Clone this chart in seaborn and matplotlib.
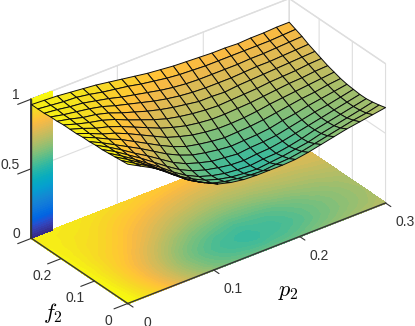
import numpy as np
import matplotlib
matplotlib.use("Agg")
import matplotlib.pyplot as plt
from matplotlib.transforms import Affine2D
import seaborn as sns

sns.set_theme(style="white", rc={'xtick.bottom': True, 'ytick.left': True})
plt.rcParams['font.family'] = ['Liberation Sans', 'DejaVu Sans']
plt.rcParams['mathtext.fontset'] = 'cm'

p2_max = 0.3
f2_max = 0.29
p2_values = np.linspace(0, p2_max, 21)
f2_values = np.linspace(0, f2_max, 16)
z_rows = [
 [1.00,.995,.99,.985,.98,.98,.975,.975,.97,.97,.97,.965,.965,.96,.96,.96],
 [.95,.94,.935,.93,.93,.93,.93,.935,.935,.94,.94,.945,.945,.95,.95,.955],
 [.90,.885,.875,.87,.87,.875,.88,.89,.895,.905,.915,.92,.93,.935,.94,.95],
 [.84,.82,.81,.805,.81,.815,.83,.85,.865,.88,.895,.905,.915,.925,.935,.94],
 [.77,.75,.74,.74,.745,.76,.78,.80,.825,.845,.865,.88,.895,.905,.92,.93],
 [.70,.68,.67,.67,.68,.70,.725,.75,.78,.805,.825,.845,.865,.885,.90,.92],
 [.65,.625,.615,.61,.62,.64,.67,.70,.735,.765,.79,.815,.84,.86,.885,.905],
 [.605,.58,.57,.565,.575,.595,.625,.655,.69,.725,.755,.785,.815,.84,.87,.89],
 [.58,.555,.54,.535,.545,.565,.59,.62,.66,.695,.725,.76,.79,.82,.85,.875],
 [.565,.54,.52,.515,.525,.54,.57,.60,.635,.67,.705,.74,.77,.80,.835,.86],
 [.56,.53,.51,.505,.51,.53,.555,.585,.62,.655,.69,.725,.755,.785,.82,.85],
 [.56,.525,.505,.50,.505,.52,.545,.575,.61,.645,.68,.71,.745,.775,.81,.84],
 [.56,.535,.515,.51,.515,.53,.55,.58,.61,.645,.675,.71,.74,.77,.805,.835],
 [.565,.54,.525,.515,.52,.535,.555,.585,.615,.65,.68,.705,.74,.77,.80,.83],
 [.58,.555,.54,.53,.535,.545,.565,.595,.625,.655,.685,.715,.74,.77,.80,.825],
 [.60,.575,.555,.55,.555,.565,.585,.61,.64,.665,.69,.72,.745,.77,.80,.825],
 [.62,.595,.58,.575,.575,.585,.60,.625,.65,.675,.70,.725,.75,.775,.80,.82],
 [.64,.615,.60,.595,.595,.605,.62,.64,.66,.685,.705,.73,.75,.775,.80,.825],
 [.655,.635,.62,.615,.615,.62,.635,.65,.67,.69,.71,.735,.755,.78,.80,.825],
 [.67,.65,.64,.635,.635,.64,.65,.665,.68,.70,.72,.74,.76,.785,.805,.83],
 [.685,.672,.662,.655,.655,.66,.665,.675,.69,.705,.725,.745,.765,.79,.81,.83],
]
p_ticks = [0, 0.1, 0.2, 0.3]
f_ticks = [0, 0.1, 0.2]
z_ticks = [0, 0.5, 1]
strip_width = 0.024

parula_anchors = [
 (0.2081,0.1663,0.5292),(0.2123,0.2138,0.6270),(0.1959,0.2645,0.7279),(0.1253,0.3242,0.8303),
 (0.0117,0.3875,0.8820),(0.0165,0.4266,0.8786),(0.0498,0.4586,0.8641),(0.0723,0.4887,0.8467),
 (0.0793,0.5200,0.8312),(0.0641,0.5570,0.8240),(0.0343,0.5966,0.8199),(0.0239,0.6287,0.8038),
 (0.0228,0.6535,0.7768),(0.0384,0.6743,0.7436),(0.0843,0.6928,0.7062),(0.1453,0.7098,0.6646),
 (0.2178,0.7250,0.6193),(0.3022,0.7376,0.5712),(0.3953,0.7459,0.5244),(0.4871,0.7491,0.4840),
 (0.5709,0.7485,0.4494),(0.6473,0.7456,0.4188),(0.7184,0.7411,0.3905),(0.7858,0.7356,0.3633),
 (0.8507,0.7299,0.3360),(0.9139,0.7258,0.3063),(0.9739,0.7314,0.2666),(0.9990,0.7653,0.2164),
 (0.9880,0.8066,0.1794),(0.9697,0.8481,0.1475),(0.9589,0.8949,0.1132),(0.9661,0.9514,0.0755),
 (0.9763,0.9831,0.0538),
]
parula = sns.blend_palette(parula_anchors, n_colors=256, as_cmap=True)
axis_color = (0.2, 0.2, 0.2)

W, H = 415, 326
fig = plt.figure(figsize=(W/100, H/100), dpi=100, facecolor='white')
S = 384
ax = fig.add_axes([11.3/W, -22.2/H, S/W, S/H], projection='3d',
                  proj_type='ortho', computed_zorder=False)
ax.patch.set_alpha(0)
ax.view_init(elev=30.9, azim=-127.2)
ax.set_box_aspect((323, 159, 162))
ax.set_xlim(0, p2_max, view_margin=0)
ax.set_ylim(0, f2_max, view_margin=0)
ax.set_zlim(0, 1, view_margin=0)

F, P = np.meshgrid(f2_values, p2_values)
Z = np.array(z_rows)
norm = plt.Normalize(0, 1)

floor = ax.contourf(P, F, Z, levels=np.linspace(0.45, 1.02, 40), cmap=parula, norm=norm,
                    zdir='z', offset=0, zorder=1)
floor.set_edgecolor('face')
floor.set_linewidth(0.6)

strip_z = np.linspace(0, 1, 65)
SX, SZ = np.meshgrid([0, strip_width], strip_z)
SY = np.full_like(SX, f2_max)
ax.plot_surface(SX, SY, SZ, rstride=1, cstride=1, facecolors=parula(norm(SZ)),
                linewidth=0, antialiased=False, shade=False, zorder=2)

# outer axis edges and ticks, drawn above the floor and the colour strip
edge_color = axis_color
ax.plot3D(np.array([0.0, p2_max]), np.zeros(2), np.zeros(2), color=edge_color, lw=1.0, zorder=2.5)
ax.plot3D(np.zeros(2), np.array([0.0, f2_max]), np.zeros(2), color=edge_color, lw=1.0, zorder=2.5)
ax.plot3D(np.zeros(2), np.full(2, f2_max), np.array([0.0, 1.0]), color=edge_color, lw=1.0, zorder=2.5)
tick_len_f = 0.016
tick_len_p = 0.016
for p in p_ticks:
    ax.plot3D(np.full(2, p), np.array([0.0, -tick_len_f]), np.zeros(2), color=edge_color, lw=0.8, zorder=2.5)
for f in f_ticks:
    ax.plot3D(np.array([0.0, -tick_len_p]), np.full(2, f), np.zeros(2), color=edge_color, lw=0.8, zorder=2.5)
for z in z_ticks:
    ax.plot3D(np.array([0.0, -tick_len_p]), np.full(2, f2_max), np.full(2, z), color=edge_color, lw=0.8, zorder=2.5)

ax.plot_surface(P, F, Z, rstride=1, cstride=1, cmap=parula, norm=norm,
                edgecolor=(0.05, 0.05, 0.05), linewidth=0.7, antialiased=True,
                shade=False, zorder=3)

ax.set_xticks(p_ticks, labels=['0', '0.1', '0.2', '0.3'])
ax.set_yticks(f_ticks, labels=['0', '0.1', '0.2'])
ax.set_zticks(z_ticks, labels=['0', '0.5', '1'])
ax.set_xlim(0, p2_max, view_margin=0)
ax.set_ylim(0, f2_max, view_margin=0)
ax.set_zlim(0, 1, view_margin=0)
for axis in (ax.xaxis, ax.yaxis, ax.zaxis):
    axis.set_pane_color((1, 1, 1, 1))
    axis.pane.set_edgecolor((0.87, 0.87, 0.87))
    axis._axinfo['grid'].update(color=(0.87, 0.87, 0.87), linewidth=0.8)
    axis._axinfo['axisline'].update(color=axis_color, linewidth=0.8)
    axis._axinfo['tick'].update(inward_factor=0.0, outward_factor=0.7,
                                linewidth={True: 0.8, False: 0.5})
    axis.set_tick_params(labelsize=10, labelcolor=(0.2, 0.2, 0.2), pad=0, color=axis_color)
ax.grid(True)

def nudge_labels(axis, dx, dy, ha='center'):
    """Fine placement of the native tick labels, in pixels."""
    for tick in axis.get_major_ticks():
        tick.label1.set_ha(ha)
        tick.label1.set_transform(ax.transData + Affine2D().translate(dx, dy))
        tick.label1.set_transform = lambda *args: None

nudge_labels(ax.xaxis, 14, -1)
nudge_labels(ax.yaxis, -5, 3)
nudge_labels(ax.zaxis, 8, 13, ha='right')

fig.text(53/W, 1-313/H, r'$f_2$', fontsize=16, ha='center', va='center', color='black')
fig.text(288/W, 1-292/H, r'$p_2$', fontsize=16, ha='center', va='center', color='black')

fig.savefig('out.png', dpi=100)
